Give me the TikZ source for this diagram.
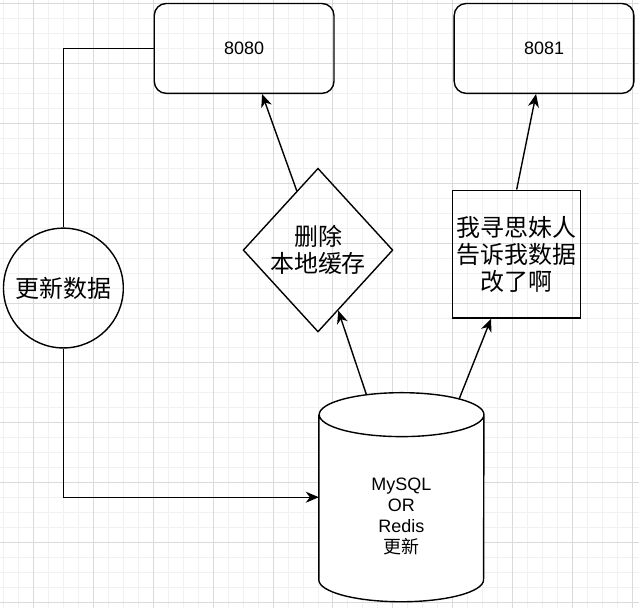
\documentclass[tikz,border=0pt]{standalone}
\usepackage{fontspec}
\setmainfont{Liberation Sans}
\newfontfamily\cjk{Noto Sans CJK SC}
\usetikzlibrary{arrows.meta}
\usetikzlibrary{shapes.geometric, positioning}
\definecolor{gridmajor}{RGB}{218,218,218}
\definecolor{gridminor}{RGB}{241,241,241}

\begin{document}
\begin{tikzpicture}[x=1pt, y=-1pt,
        box/.style={draw, line width=1.4pt, rounded corners=12pt, minimum width=180pt, minimum height=90pt, font=\fontsize{18}{21}\selectfont},
        notebox/.style={draw, line width=1.4pt, minimum width=128pt, minimum height=128pt, inner sep=0pt, align=center, font=\cjk\fontsize{24}{27}\selectfont},
        decision/.style={draw, diamond, line width=1.4pt, minimum width=150pt, minimum height=164pt, inner sep=0pt, align=center, font=\cjk\fontsize{24}{27}\selectfont},
        round/.style={draw, circle, line width=1.4pt, minimum size=120pt, inner sep=0pt, font=\cjk\fontsize{24}{27}\selectfont},
        store/.style={minimum width=165pt, minimum height=209pt, inner sep=0pt},
        rim/.style={x radius=82.5pt, y radius=22pt},
        arrow/.style={-{Stealth[length=13pt, width=11pt, inset=4pt]}, line width=1.4pt},
        link/.style={line width=1.4pt}
    ]

        % --- fondo ---
        \fill[white] (0,0) rectangle (639,608);
        \foreach \x in {3,18,...,638} \draw[gridminor, line width=1pt] (\x,0) -- (\x,608);
        \foreach \y in {3,18,...,607} \draw[gridminor, line width=1pt] (0,\y) -- (639,\y);
        \foreach \x in {33,93,...,638} \draw[gridmajor, line width=1pt] (\x,0) -- (\x,608);
        \foreach \y in {3,63,...,607} \draw[gridmajor, line width=1pt] (0,\y) -- (639,\y);

        % --- servidores ---
        \node[box] (srv1) at (244,48) {8080};
        \node[box, right=119pt of srv1] (srv2) {8081};

        % --- nodos intermedios ---
        \node[round] (upd) at (63,288) {更新数据};
        \node[decision] (del) at (318,250) {删除\\本地缓存};
        \node[notebox] (note) at (517,254) {我寻思妹人\\告诉我数据\\改了啊};

        % --- base de datos (cilindro) ---
        \node[store] (db) at (401.5,497.5) {};
        \draw[link, fill=white] ([yshift=-22pt]db.north west) -- ([yshift=22pt]db.south west)
            arc[start angle=180, end angle=360, rim] -- ([yshift=-22pt]db.north east)
            arc[start angle=0, end angle=180, rim] arc[start angle=180, end angle=360, rim];
        \node[align=center, font=\fontsize{18}{21}\selectfont] (dbtext) at ([yshift=-19pt]db.center) {MySQL\\OR\\Redis\\{\cjk 更新}};

        % --- conexiones ---
        \draw[link] (upd.north) |- (srv1.west);
        \draw[arrow] (upd.south) |- (db.west);
        \draw[arrow] ([xshift=-35pt, yshift=-2pt]db.north) -- (del);
        \draw[arrow] (del) -- ([xshift=18pt]srv1.south);
        \draw[arrow] ([xshift=58pt, yshift=-6pt]db.north) -- (note);
        \draw[arrow] (note.north) -- ([xshift=-8pt]srv2.south);

        \useasboundingbox (0,0) rectangle (639,608);
    \end{tikzpicture}
\end{document}
